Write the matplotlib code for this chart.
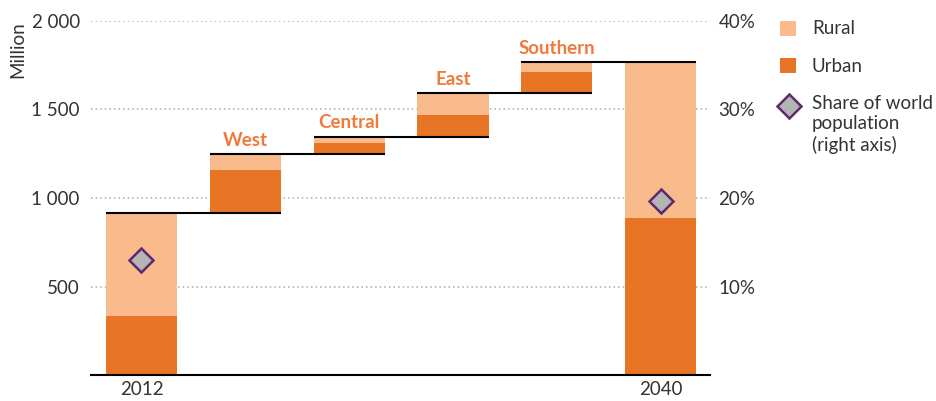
import numpy as np
import matplotlib
matplotlib.use("Agg")
import matplotlib.pyplot as plt
from matplotlib.lines import Line2D
from matplotlib.patches import Rectangle

plt.rcParams['font.family'] = ['Lato', 'DejaVu Sans']

# data (million people; share in %)
categories = ["2012", "West", "Central", "East", "Southern", "2040"]
urban = [336, 243, 65, 122, 121, 889]
rural = [580, 89, 34, 123, 53, 879]
share_pos = [0, 5]
share = [13.0, 19.7]
left_ticks = [500, 1000, 1500, 2000]
left_labels = ["500", "1 000", "1 500", "2 000"]
right_ticks = [10, 20, 30, 40]

RURAL_COL = "#FABB8C"
URBAN_COL = "#E87425"
LABEL_COL = "#F07A3A"
TXT = "#333333"
FS = 13.5

W, H = 937, 401
fig = plt.figure(figsize=(W / 100, H / 100), dpi=100)
ax = fig.add_axes([0.097, 0.064, 0.661, 0.884])

n = len(categories)
x = np.arange(n)
totals = np.array(urban) + np.array(rural)
bottoms = np.zeros(n)
tops = np.zeros(n)
running = 0.0
for i in range(n):
    if i == 0 or i == n - 1:
        bottoms[i] = 0
        tops[i] = totals[i]
        running = totals[i]
    else:
        bottoms[i] = running
        running += totals[i]
        tops[i] = running

w = 0.685
ax.bar(x, urban, bottom=bottoms, width=w, color=URBAN_COL, zorder=2)
ax.bar(x, rural, bottom=bottoms + np.array(urban), width=w, color=RURAL_COL, zorder=2)

# connectors
for i in range(n - 1):
    ax.plot([x[i] - w / 2, x[i + 1] + w / 2], [tops[i], tops[i]],
            color="black", lw=1.5, zorder=3, solid_capstyle="butt")

# region labels
for i in range(1, n - 1):
    ax.annotate(categories[i], (x[i], tops[i]), xytext=(0, 4), textcoords="offset points",
                ha="center", va="bottom", color=LABEL_COL, fontsize=FS, fontweight="bold")

ax.set_xlim(-0.487, 5.477)
ax.set_ylim(0, 2000)
ax.set_yticks(left_ticks)
ax.set_yticklabels(left_labels)
ax.set_xticks([0, n - 1])
ax.set_xticklabels([categories[0], categories[-1]])
ax.tick_params(axis="both", length=0, labelsize=FS, labelcolor=TXT)
ax.tick_params(axis="y", pad=8)
ax.tick_params(axis="x", pad=4)
ax.yaxis.grid(True, linestyle=(0, (1, 2)), color="#AAAAAA", lw=1.1, zorder=0)
ax.set_axisbelow(True)
for s in ["left", "right", "top"]:
    ax.spines[s].set_visible(False)
ax.spines["bottom"].set_color("black")
ax.spines["bottom"].set_linewidth(1.5)

ax2 = ax.twinx()
ax2.set_ylim(0, 40)
ax2.set_yticks(right_ticks)
ax2.set_yticklabels([f"{t}%" for t in right_ticks])
ax2.tick_params(axis="y", length=0, labelsize=FS, labelcolor=TXT, pad=6)
for s in ["left", "right", "top", "bottom"]:
    ax2.spines[s].set_visible(False)
ax2.plot(share_pos, share, linestyle="none", marker="D", markersize=12,
         markerfacecolor="#B4B4B4", markeredgecolor="#5C2A6E", markeredgewidth=1.8, zorder=5)

fig.text(18 / W, 1 - 50 / H, "Million", rotation=90, ha="center", va="center",
         fontsize=FS, color=TXT)

# legend, placed by hand
def fx(px):
    return px / W

def fy(py):
    return 1 - py / H

fig.add_artist(Rectangle((fx(780), fy(36)), 16 / W, 15 / H, transform=fig.transFigure,
                         facecolor=RURAL_COL, edgecolor="none"))
fig.add_artist(Rectangle((fx(780), fy(73)), 16 / W, 15 / H, transform=fig.transFigure,
                         facecolor=URBAN_COL, edgecolor="none"))
fig.add_artist(Line2D([fx(789)], [fy(106)], transform=fig.transFigure, linestyle="none",
                      marker="D", markersize=12, markerfacecolor="#B4B4B4",
                      markeredgecolor="#5C2A6E", markeredgewidth=1.8))
fig.text(fx(812), fy(28), "Rural", ha="left", va="center", fontsize=FS, color=TXT)
fig.text(fx(812), fy(66), "Urban", ha="left", va="center", fontsize=FS, color=TXT)
fig.text(fx(812), fy(95), "Share of world\npopulation\n(right axis)", ha="left", va="top",
         fontsize=FS, color=TXT, linespacing=1.25)

fig.savefig("out.png", dpi=100)
